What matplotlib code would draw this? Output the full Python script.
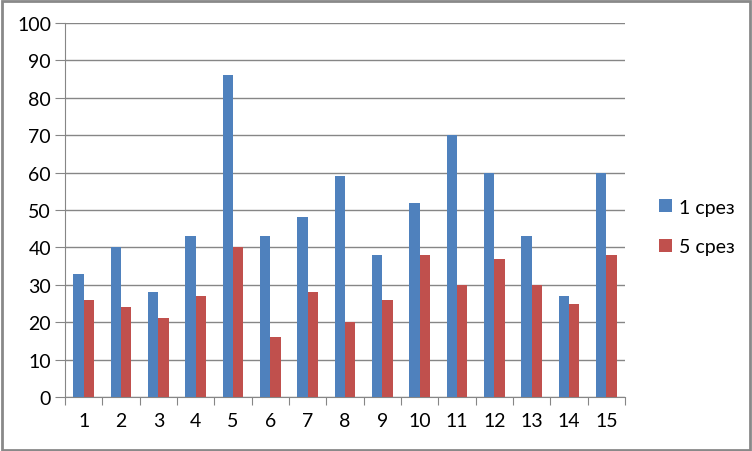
import numpy as np
import matplotlib
matplotlib.use('Agg')
import matplotlib.pyplot as plt
from matplotlib.patches import Rectangle

categories = [str(i) for i in range(1, 16)]
series_names = ['1 срез', '5 срез']
srez1 = [33, 40, 28, 43, 86, 43, 48, 59, 38, 52, 70, 60, 43, 27, 60]
srez5 = [26, 24, 21, 27, 40, 16, 28, 20, 26, 38, 30, 37, 30, 25, 38]
colors = ['#4F81BD', '#C0504D']

plt.rcParams['font.family'] = ['Lato', 'DejaVu Sans']

fig = plt.figure(figsize=(7.52, 4.52), dpi=100)
ax = fig.add_axes([65 / 752, 54 / 452, 560 / 752, 374 / 452])

x = np.arange(len(categories))
w = 0.28
ax.bar(x - w / 2, srez1, width=w, color=colors[0], label=series_names[0], zorder=3)
ax.bar(x + w / 2, srez5, width=w, color=colors[1], label=series_names[1], zorder=3)

ax.set_xlim(-0.5, len(categories) - 0.5)
ax.set_ylim(0, 100)
ax.set_yticks(range(0, 101, 10))
ax.yaxis.grid(True, color='#868686', linewidth=1, zorder=0)
ax.set_axisbelow(True)

for s in ['top', 'right']:
    ax.spines[s].set_visible(False)
for s in ['left', 'bottom']:
    ax.spines[s].set_color('#868686')

# category boundaries get the tick marks, labels sit in the middle
ax.set_xticks(np.arange(-0.5, len(categories), 1))
ax.set_xticklabels([])
ax.set_xticks(x, minor=True)
ax.set_xticklabels(categories, minor=True)
ax.tick_params(axis='x', which='major', length=6, color='#868686', direction='out')
ax.tick_params(axis='x', which='minor', length=0, pad=11, labelsize=14)
ax.tick_params(axis='y', length=7, color='#868686', labelsize=14, pad=3)

leg = ax.legend(loc='center left', bbox_to_anchor=(1.03, 0.455), frameon=False,
                fontsize=14, handlelength=0.65, handleheight=0.65, handletextpad=0.35,
                labelspacing=1.15)

fig.patches.append(Rectangle((0.002, 0.003), 0.995, 0.993, transform=fig.transFigure,
                             fill=False, edgecolor='#898989', linewidth=2))

fig.savefig('out.png', dpi=100)
